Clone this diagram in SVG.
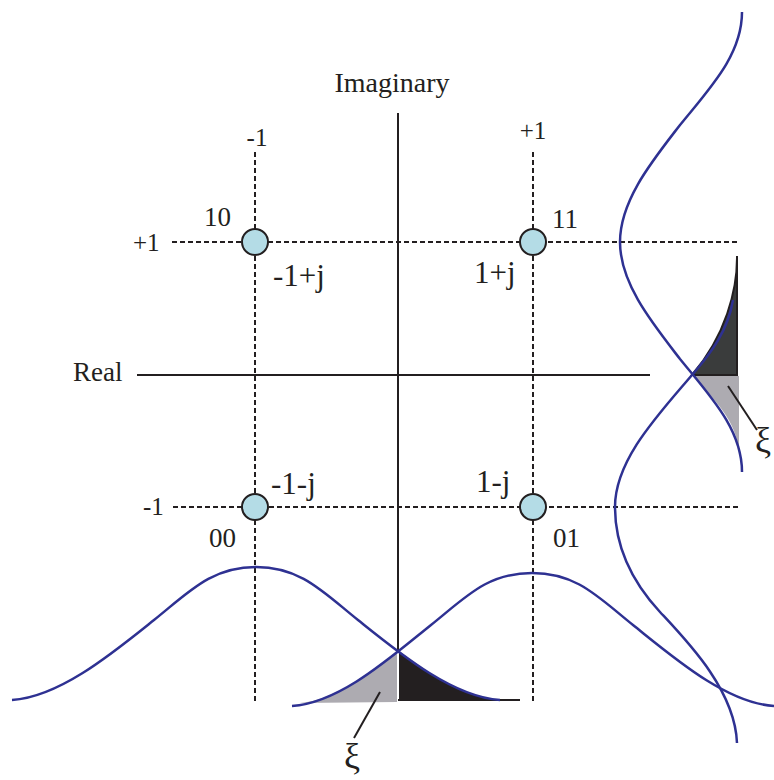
<svg xmlns="http://www.w3.org/2000/svg" width="774" height="780" viewBox="0 0 774 780">
<style>
text{font-family:"Liberation Serif","Times New Roman",serif;fill:#231f20}
.ax{stroke:#231f20;stroke-width:2;fill:none}
.dash{stroke:#231f20;stroke-width:2;stroke-dasharray:5 3;fill:none}
.pdf{stroke:#2e3192;stroke-width:2.5;fill:none}
.pt{fill:#b4dce6;stroke:#231f20;stroke-width:2}
.lab{font-size:31px}
.bit{font-size:27px}
.num{font-size:25px}
</style>
<rect width="774" height="780" fill="#fff"/>
<g id="fills">
<path d="M300,703 C330,701 366,677 397,652 L397,702 Z" fill="#adabb1"/>
<path d="M399,651 C430,675 466,698 500,700 L399,700 Z" fill="#231f20"/>
<path d="M692,375 C712,398 738,420 739,455 L739,376 Z" fill="#adabb1"/>
<path d="M692,375 C726,335 737,290 737,258 L737,375 Z" fill="#3a3c3c" stroke="#231f20" stroke-width="2"/>
</g>
<g id="connectors">
<line class="ax" x1="398" y1="113" x2="398" y2="651"/>
<line class="ax" x1="137" y1="375" x2="650" y2="375"/>
<line class="dash" x1="255" y1="152" x2="255" y2="703"/>
<line class="dash" x1="533" y1="152" x2="533" y2="703"/>
<line class="dash" x1="172" y1="242" x2="737" y2="242"/>
<line class="dash" x1="173" y1="507" x2="740" y2="507"/>
<line class="ax" x1="398" y1="700" x2="520" y2="700" stroke-width="2.5"/>
<line class="ax" x1="737" y1="256" x2="737" y2="376" stroke-width="2.5"/>
<line class="ax" x1="692" y1="375" x2="737" y2="375" stroke-width="2.5"/>
<line class="ax" x1="380" y1="692" x2="354" y2="738"/>
<line class="ax" x1="728" y1="386" x2="757" y2="430"/>
</g>
<g id="curves">
<path class="pdf" d="M12,700 C60,697 114,652 154,620 C189,592 211,567 256,567 C301,567 323,592 358,620 C398,652 452,697 500,700"/>
<path class="pdf" d="M292,706 C340,703 391,657 431,625 C466,597 487,573 532,573 C577,573 598,597 633,625 C673,657 726,703 774,706"/>
<path class="pdf" d="M742,12 C742,55 710,88 680,125 C653,160 620,200 620,242 C620,284 653,324 680,359 C710,396 742,429 742,472"/>
<path class="pdf" d="M692,375 C658,415 615,460 615,507 C615,550 635,585 660,612 C687,641 735,690 737,743"/>
<path class="pdf" d="M692,375 C712,352 728,330 733,300"/>
</g>
<g id="n10"><circle class="pt" cx="255" cy="242" r="13"/><text class="bit" x="204" y="226">10</text><text class="lab" x="273" y="286">-1+j</text></g>
<g id="n11"><circle class="pt" cx="533" cy="242" r="13"/><text class="bit" x="552" y="228">11</text><text class="lab" x="474" y="283">1+j</text></g>
<g id="n00"><circle class="pt" cx="255" cy="507" r="13"/><text class="bit" x="209" y="547">00</text><text class="lab" x="271" y="494">-1-j</text></g>
<g id="n01"><circle class="pt" cx="533" cy="507" r="13"/><text class="bit" x="553" y="547">01</text><text class="lab" x="476" y="492">1-j</text></g>
<g id="labels">
<text x="392" y="92" font-size="28" text-anchor="middle">Imaginary</text>
<text x="73" y="381" font-size="27">Real</text>
<text class="num" x="257" y="146" text-anchor="middle">-1</text>
<text class="num" x="533" y="139" text-anchor="middle">+1</text>
<text class="num" x="133" y="251">+1</text>
<text class="num" x="143" y="515">-1</text>
<text x="352" y="768" font-size="36" text-anchor="middle">ξ</text>
<text x="755" y="452" font-size="36">ξ</text>
</g>
</svg>
